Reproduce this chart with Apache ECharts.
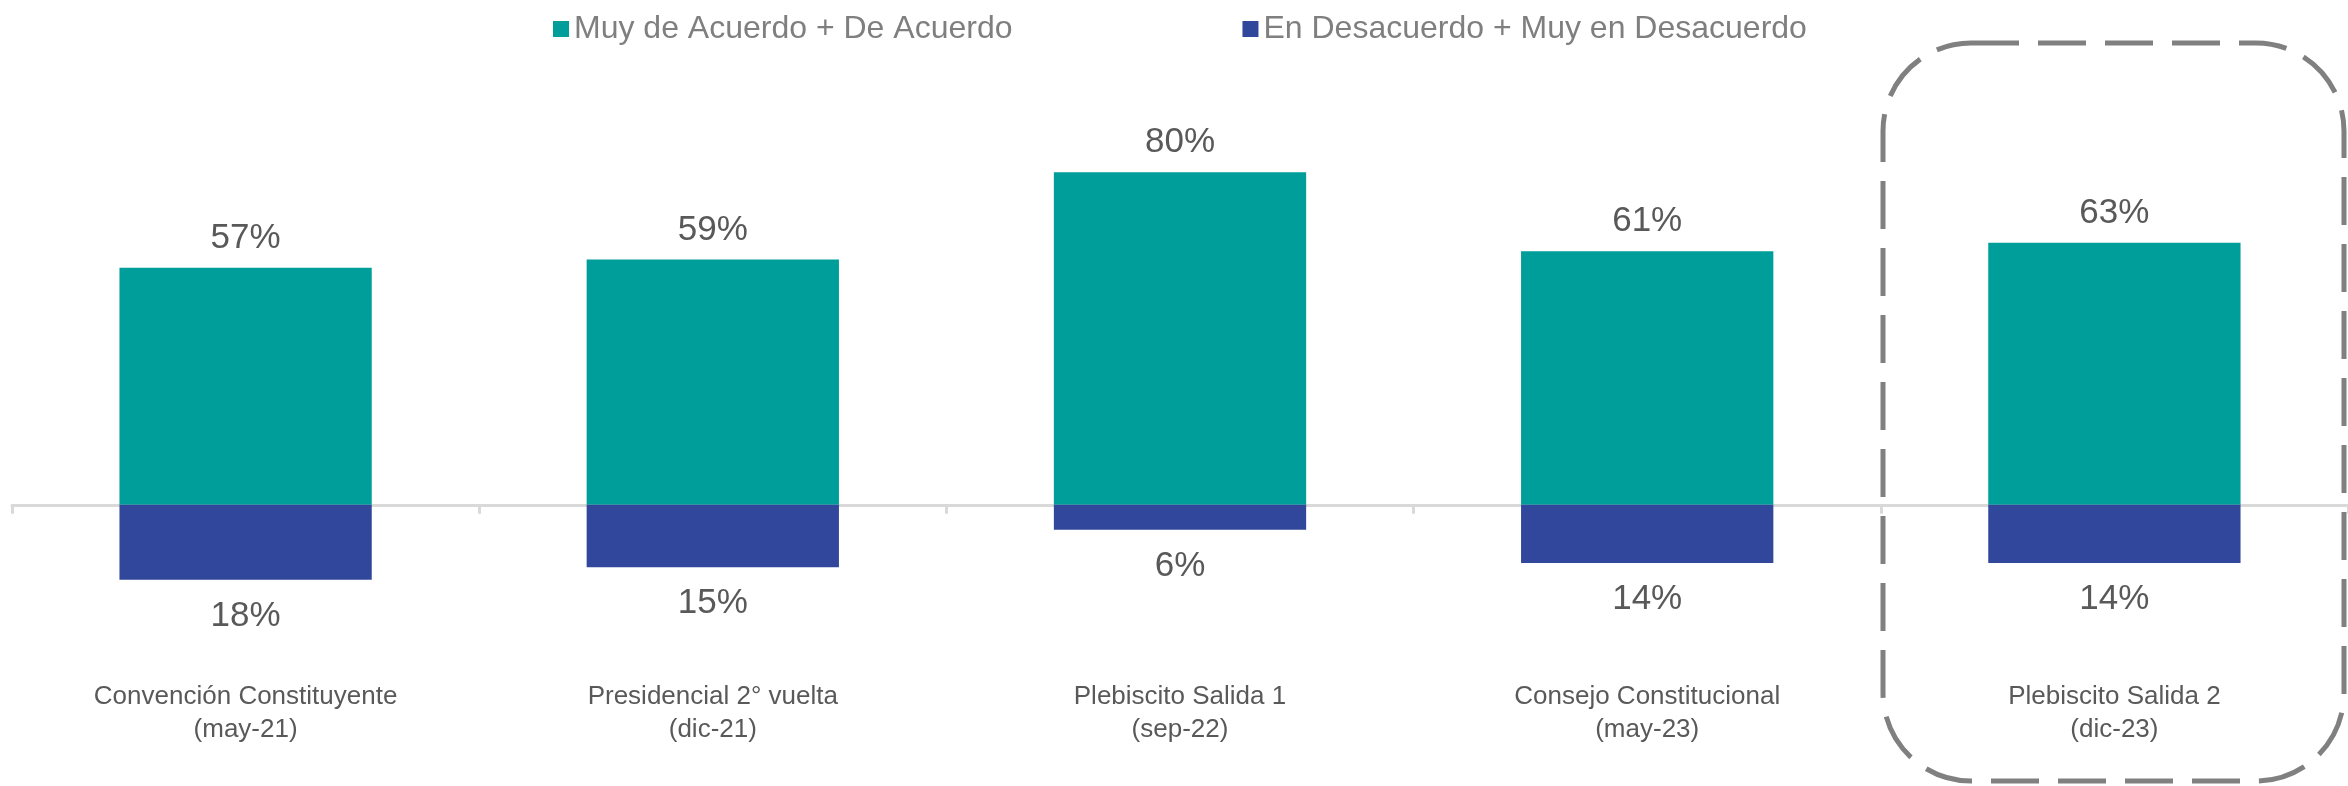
<!DOCTYPE html>
<html>
<head>
<meta charset="utf-8">
<script src="https://cdn.jsdelivr.net/npm/echarts@6/dist/echarts.min.js"></script>
<style>
  html, body { margin: 0; padding: 0; background: #fff; }
  #chart { width: 2348px; height: 786px; }
</style>
</head>
<body>
<div id="chart"></div>
<script>
// datos
const categorias = [
  'Convención Constituyente\n(may-21)',
  'Presidencial 2° vuelta\n(dic-21)',
  'Plebiscito Salida 1\n(sep-22)',
  'Consejo Constitucional\n(may-23)',
  'Plebiscito Salida 2\n(dic-23)'
]
const deAcuerdo = [57, 59, 80, 61, 63]
const enDesacuerdo = [18, 15, 6, 14, 14]

const chart = echarts.init(document.getElementById('chart'))

const labelBase = {
  show: true,
  fontSize: 35,
  color: '#595959',
  fontFamily: 'Liberation Sans, Arial, sans-serif',
  formatter: p => Math.abs(p.value) + '%'
}

const option = {
  animation: false,
  textStyle: { fontFamily: 'Liberation Sans, Arial, sans-serif' },
  legend: {
    left: 548,
    top: 8,
    itemWidth: 16,
    itemHeight: 16,
    itemGap: 230,
    icon: 'rect',
    textStyle: { fontSize: 32, color: '#7f7f7f' },
    data: ['Muy de Acuerdo + De Acuerdo', 'En Desacuerdo + Muy en Desacuerdo']
  },
  grid: { left: 12, right: 0, top: 89, bottom: 198 },
  xAxis: [
    {
      type: 'category',
      data: categorias,
      axisLine: { onZero: true, lineStyle: { color: '#d9d9d9', width: 3 } },
      axisTick: { show: true, length: 9, lineStyle: { color: '#d9d9d9', width: 3 } },
      axisLabel: { show: false }
    },
    {
      type: 'category',
      position: 'bottom',
      data: categorias,
      axisLine: { show: false },
      axisTick: { show: false },
      axisLabel: {
        margin: 92,
        fontSize: 26,
        lineHeight: 33,
        color: '#595959',
        interval: 0
      }
    }
  ],
  yAxis: {
    type: 'value',
    min: -20,
    max: 100,
    show: false,
    splitLine: { show: false }
  },
  series: [
    {
      name: 'Muy de Acuerdo + De Acuerdo',
      type: 'bar',
      stack: 'total',
      barWidth: '54%',
      itemStyle: { color: '#009e9a' },
      label: Object.assign({}, labelBase, { position: 'top', distance: 12 }),
      data: deAcuerdo
    },
    {
      name: 'En Desacuerdo + Muy en Desacuerdo',
      type: 'bar',
      stack: 'total',
      barWidth: '54%',
      itemStyle: { color: '#30479b' },
      label: Object.assign({}, labelBase, { position: 'bottom', distance: 19 }),
      data: enDesacuerdo.map(v => -v)
    }
  ],
  graphic: [
    {
      type: 'rect',
      silent: true,
      shape: { x: 1883, y: 43, width: 461, height: 738, r: 88 },
      style: {
        fill: 'none',
        stroke: '#808080',
        lineWidth: 5,
        lineDash: [48, 19]
      }
    }
  ]
}

chart.setOption(option)
</script>
</body>
</html>
